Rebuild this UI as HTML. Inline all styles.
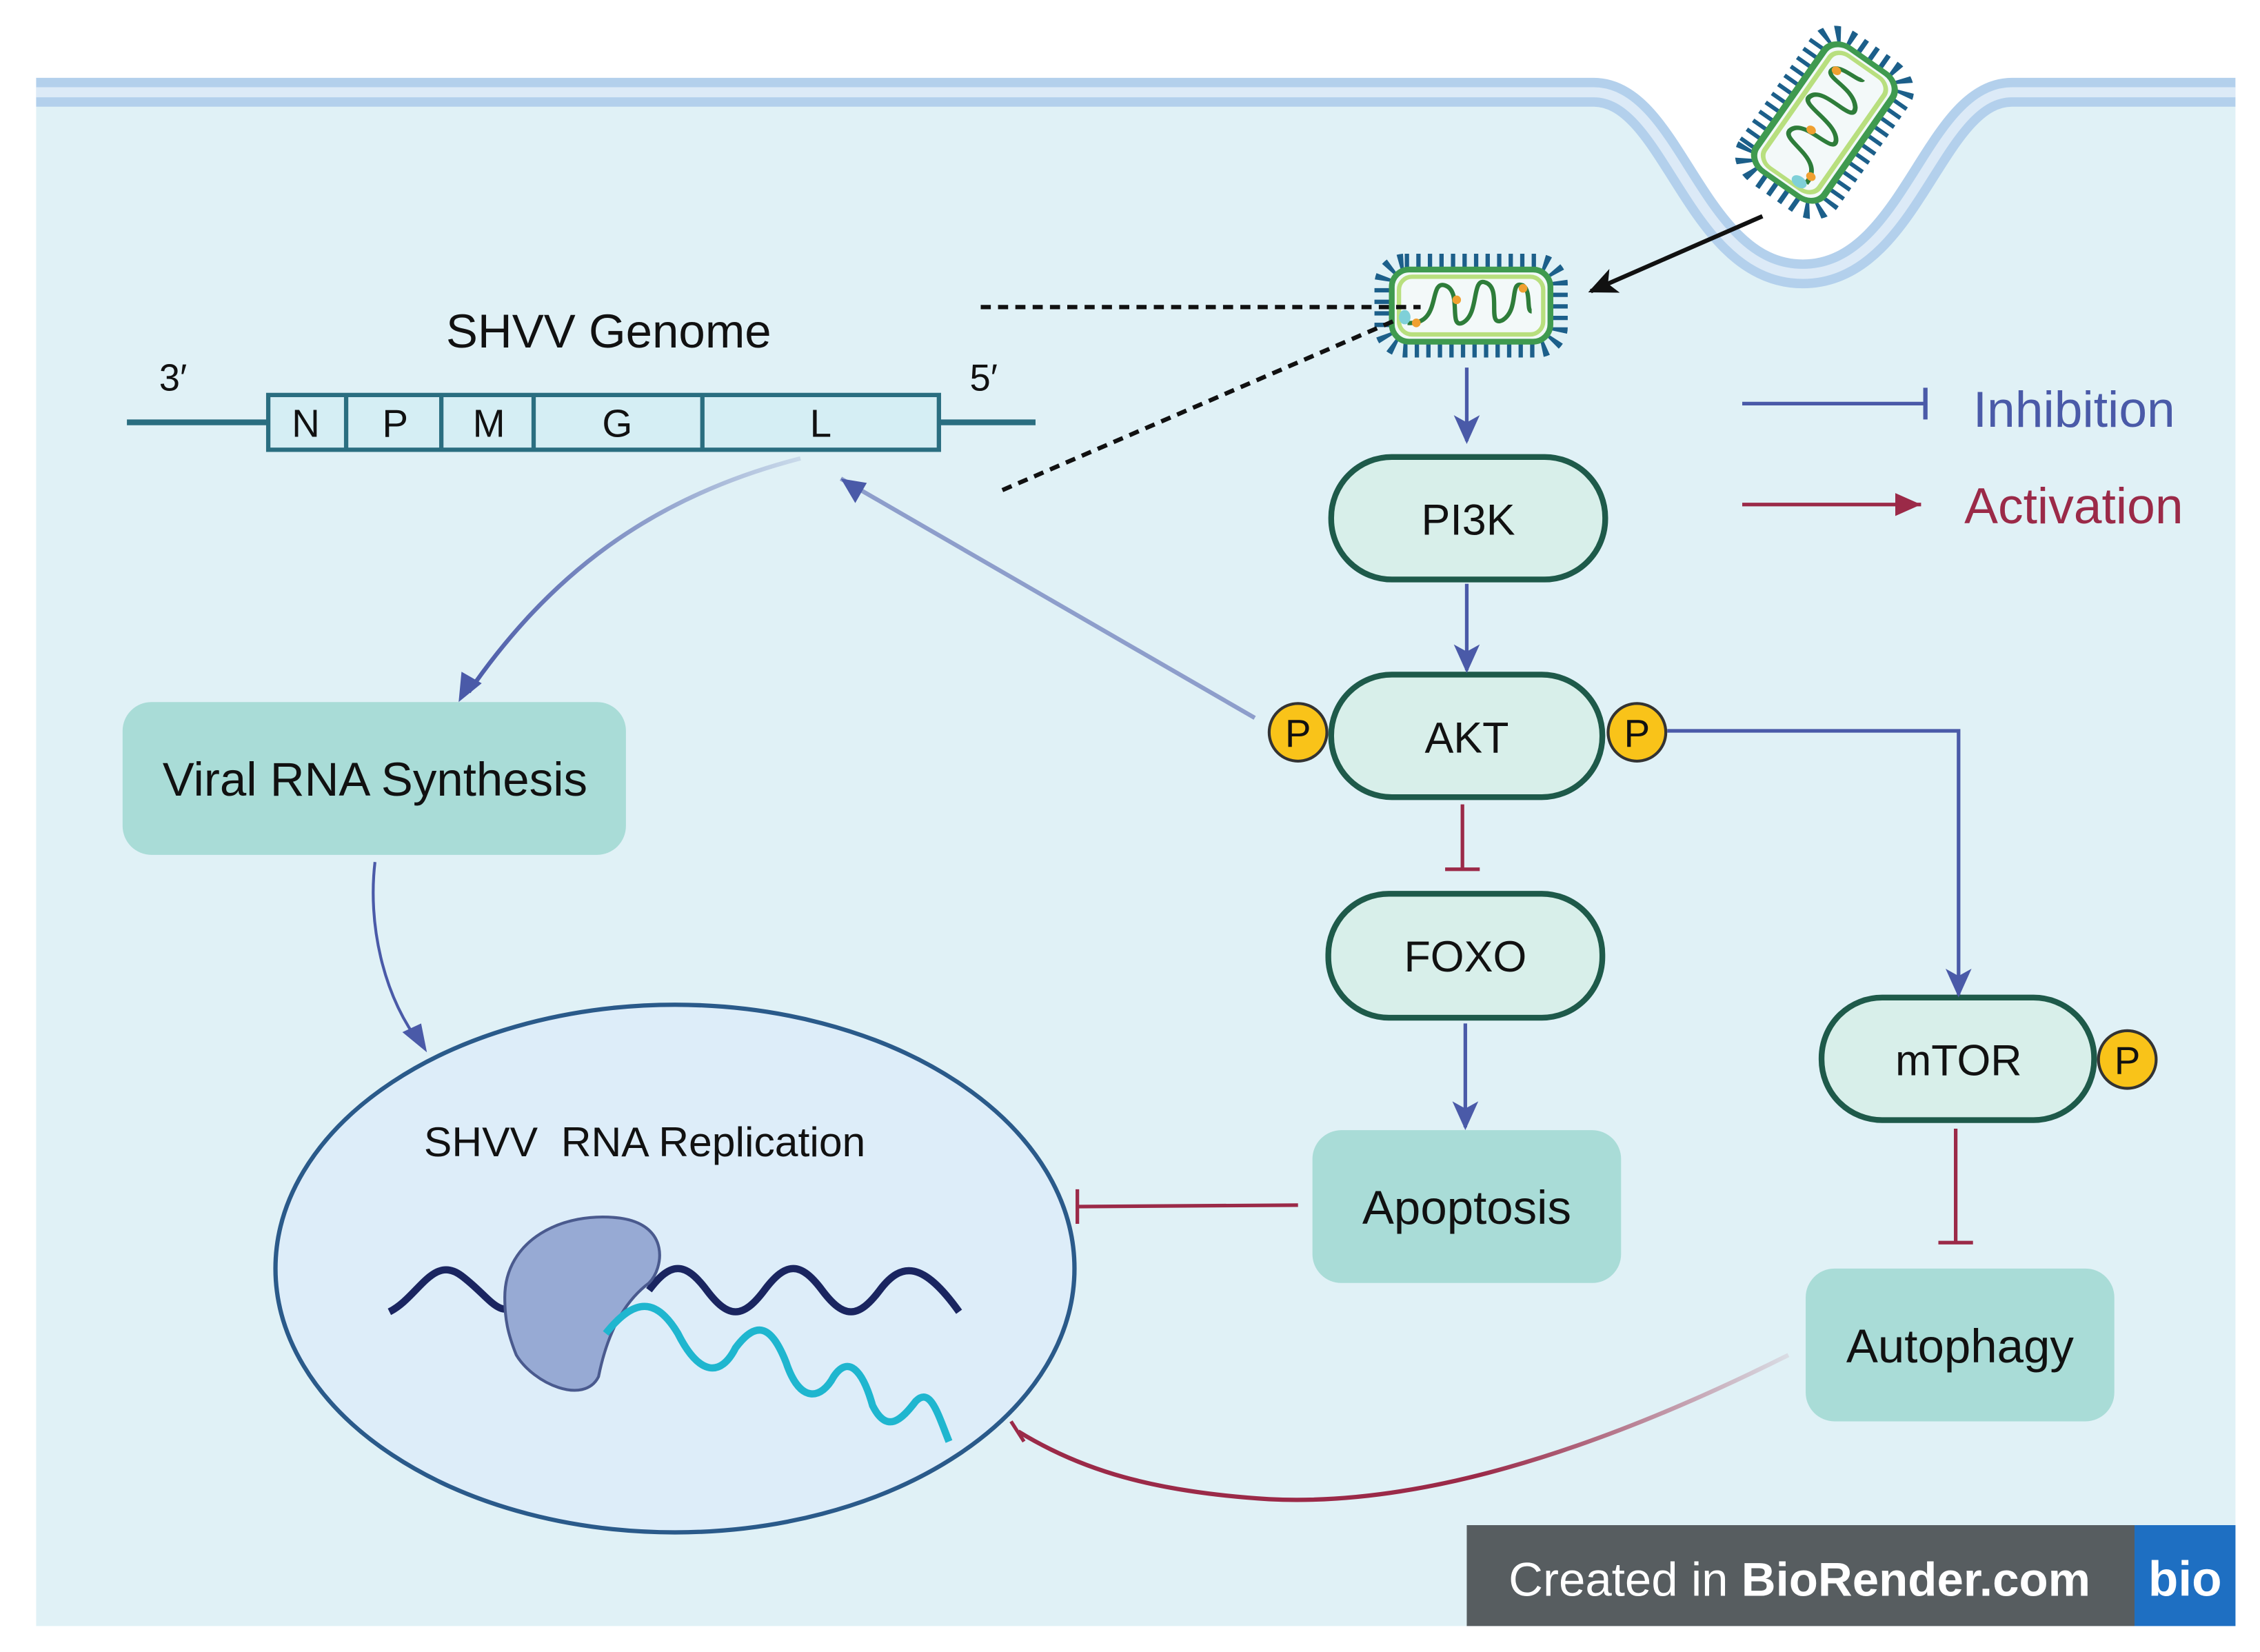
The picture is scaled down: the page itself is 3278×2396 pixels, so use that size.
<!DOCTYPE html>
<html><head><meta charset="utf-8"><style>
html,body{margin:0;padding:0;background:#fff}
svg{display:block}
text{font-family:"Liberation Sans",sans-serif}
</style></head><body>
<svg width="3278" height="2396" viewBox="0 0 1567 1146" preserveAspectRatio="none" xmlns="http://www.w3.org/2000/svg">
<defs>
<marker id="ak" markerWidth="22" markerHeight="22" refX="18" refY="11" orient="auto" markerUnits="userSpaceOnUse"><path d="M0,2 L20,11 L0,20 L5,11z" fill="#111"/></marker>
<marker id="abb" markerWidth="22" markerHeight="22" refX="18" refY="11" orient="auto" markerUnits="userSpaceOnUse"><path d="M0,2 L20,11 L0,20 L5,11z" fill="#4a5aa8"/></marker>
<marker id="ar" markerWidth="22" markerHeight="22" refX="18" refY="11" orient="auto" markerUnits="userSpaceOnUse"><path d="M0,3 L18,11 L0,19z" fill="#9b2a48"/></marker>
<linearGradient id="g1" x1="0" y1="0" x2="1" y2="0"><stop offset="0" stop-color="#4a5aa8"/><stop offset="1" stop-color="#4a5aa8" stop-opacity="0.15"/></linearGradient>
<linearGradient id="g2" x1="0" y1="0" x2="1" y2="0"><stop offset="0" stop-color="#9b2a48"/><stop offset="0.6" stop-color="#9b2a48"/><stop offset="1" stop-color="#9b2a48" stop-opacity="0.1"/></linearGradient>
<linearGradient id="g3" x1="0" y1="1" x2="1" y2="0"><stop offset="0" stop-color="#4a5aa8"/><stop offset="1" stop-color="#4a5aa8" stop-opacity="0.1"/></linearGradient>
<g id="vir">
<rect x="-60" y="-29" width="120" height="58" rx="14" fill="none" stroke="#1c5f8a" stroke-width="14" stroke-dasharray="3 5"/>
<rect x="-55" y="-25" width="110" height="50" rx="12" fill="#f3f9f9" stroke="#3f9a4f" stroke-width="4"/>
<rect x="-50" y="-20" width="100" height="40" rx="9" fill="none" stroke="#b8df7e" stroke-width="3"/>
<path d="M-44,12 C-20,14 -30,-18 -18,-14 C-6,-10 -16,16 -6,12 C6,6 0,-20 10,-16 C22,-12 10,16 22,10 C34,2 26,-18 36,-14 C42,-10 38,4 42,4" fill="none" stroke="#2e7d3a" stroke-width="3"/>
<ellipse cx="-46" cy="8" rx="4" ry="5" fill="#7fd0d8"/>
<circle cx="-38" cy="12" r="3" fill="#f0a030"/><circle cx="-10" cy="-4" r="3" fill="#f0a030"/><circle cx="36" cy="-12" r="3" fill="#f0a030"/>
</g>
</defs>
<rect x="0" y="0" width="1567" height="1146" fill="#fff"/>
<rect x="25" y="60" width="1525" height="1068" fill="#e0f1f6"/>
<path d="M0,0 H1567 V55 H1390 C1340,55 1320,190 1250,192 C1180,192 1160,55 1110,55 H0z" fill="#fff"/>
<path d="M25,64 H1105 C1160,64 1175,190 1250,190 C1325,190 1340,64 1395,64 H1550" fill="none" stroke="#b3d0ec" stroke-width="20"/>
<path d="M25,64 H1105 C1160,64 1175,190 1250,190 C1325,190 1340,64 1395,64 H1550" fill="none" stroke="#dceaf7" stroke-width="7"/>
<rect x="0" y="0" width="25" height="1146" fill="#fff"/><rect x="1550" y="0" width="17" height="1146" fill="#fff"/>
<use href="#vir" transform="translate(1265,85) rotate(-55) scale(0.95,1.15)"/>
<use href="#vir" transform="translate(1020,212)"/>
<line x1="1222" y1="150" x2="1103" y2="202" stroke="#111" stroke-width="3" marker-end="url(#ak)"/>
<line x1="680" y1="213" x2="985" y2="213" stroke="#111" stroke-width="3" stroke-dasharray="7 5"/>
<line x1="695" y1="340" x2="968" y2="222" stroke="#111" stroke-width="3" stroke-dasharray="7 5"/>
<text x="422" y="241" font-size="33" text-anchor="middle" fill="#111">SHVV Genome</text>
<text x="120" y="271" font-size="26" text-anchor="middle" fill="#111">3′</text>
<text x="682" y="271" font-size="26" text-anchor="middle" fill="#111">5′</text>
<line x1="88" y1="293" x2="718" y2="293" stroke="#2a6e80" stroke-width="4"/>
<rect x="186" y="274" width="465" height="38" fill="#d5eef4" stroke="#2a6e80" stroke-width="3"/>
<g stroke="#2a6e80" stroke-width="3"><line x1="240" y1="274" x2="240" y2="312"/><line x1="306" y1="274" x2="306" y2="312"/><line x1="370" y1="274" x2="370" y2="312"/><line x1="487" y1="274" x2="487" y2="312"/></g>
<g font-size="27" fill="#111" text-anchor="middle"><text x="212" y="303">N</text><text x="274" y="303">P</text><text x="339" y="303">M</text><text x="428" y="303">G</text><text x="569" y="303">L</text></g>
<g fill="#d8efea" stroke="#1e5a4a" stroke-width="4">
<rect x="923" y="317" width="190" height="85" rx="42"/>
<rect x="923" y="468" width="188" height="85" rx="42"/>
<rect x="921" y="620" width="190" height="86" rx="42"/>
<rect x="1263" y="692" width="189" height="85" rx="42"/>
</g>
<g font-size="30" fill="#111" text-anchor="middle"><text x="1018" y="371">PI3K</text><text x="1017" y="522">AKT</text><text x="1016" y="674">FOXO</text><text x="1358" y="746">mTOR</text></g>
<g fill="#f9c319" stroke="#333" stroke-width="2"><circle cx="900" cy="508" r="20"/><circle cx="1135" cy="508" r="20"/><circle cx="1475" cy="735" r="20"/></g>
<g font-size="27" fill="#111" text-anchor="middle"><text x="900" y="518">P</text><text x="1135" y="518">P</text><text x="1475" y="745">P</text></g>
<g fill="#a9dcd7"><rect x="85" y="487" width="349" height="106" rx="20"/><rect x="910" y="784" width="214" height="106" rx="20"/><rect x="1252" y="880" width="214" height="106" rx="20"/></g>
<g font-size="33" fill="#111" text-anchor="middle"><text x="260" y="552">Viral RNA Synthesis</text><text x="1017" y="849">Apoptosis</text><text x="1359" y="945">Autophagy</text></g>
<ellipse cx="468" cy="880" rx="277" ry="183" fill="#ddedf9" stroke="#2a5a8a" stroke-width="3"/>
<text x="447" y="802" font-size="29" text-anchor="middle" fill="#111" xml:space="preserve">SHVV  RNA Replication</text>
<path d="M270,910 C290,900 300,870 320,885 C340,900 345,915 360,905 M450,895 C465,875 475,875 490,895 C505,915 515,915 530,895 C545,875 555,875 570,895 C585,915 595,915 610,895 C625,875 640,875 665,910" fill="none" stroke="#1a2560" stroke-width="5"/>
<path d="M350,900 C350,860 390,840 430,845 C465,850 460,880 450,890 C430,905 420,930 415,955 C405,975 370,960 358,940 C352,925 350,915 350,900z" fill="#97aad4" stroke="#4a5a8e" stroke-width="2"/>
<path d="M420,925 C440,900 455,900 470,925 C485,955 500,955 510,935 C525,915 535,920 545,945 C555,975 570,970 578,955 C588,940 598,950 605,975 C615,995 625,985 635,972 C645,962 650,980 658,1000" fill="none" stroke="#1fb6cf" stroke-width="5"/>
<g stroke="#4a5aa8" stroke-width="2.5" fill="none">
<line x1="1017" y1="255" x2="1017" y2="306" marker-end="url(#abb)"/>
<line x1="1017" y1="405" x2="1017" y2="465" marker-end="url(#abb)"/>
<line x1="1016" y1="710" x2="1016" y2="782" marker-end="url(#abb)"/>
<polyline points="1156,507 1358,507 1358,690" marker-end="url(#abb)"/>
</g>
<line x1="870" y1="498" x2="583" y2="332" stroke="url(#g3)" stroke-width="3"/>
<path d="M583,332 L601,335 L593,349z" fill="#4a5aa8"/>
<path d="M555,318 C450,345 380,400 325,480" fill="none" stroke="url(#g1)" stroke-width="3"/>
<path d="M318,487 L320,466 L334,474z" fill="#4a5aa8"/>
<path d="M260,598 C255,640 265,690 292,725" fill="none" stroke="#4a5aa8" stroke-width="2"/>
<path d="M296,730 L279,716 L292,710z" fill="#4a5aa8"/>
<g stroke="#9b2a48" stroke-width="2.5">
<line x1="1014" y1="558" x2="1014" y2="603"/><line x1="1002" y1="603" x2="1026" y2="603"/>
<line x1="1356" y1="783" x2="1356" y2="862"/><line x1="1344" y1="862" x2="1368" y2="862"/>
<line x1="900" y1="836" x2="747" y2="837"/><line x1="747" y1="825" x2="747" y2="849"/>
<line x1="701" y1="986" x2="710" y2="1000"/>
</g>
<path d="M1240,940 C1100,1010 980,1045 880,1040 C800,1035 750,1020 706,993" fill="none" stroke="url(#g2)" stroke-width="3"/>
<line x1="1208" y1="280" x2="1335" y2="280" stroke="#4a5aa8" stroke-width="2.5"/><line x1="1335" y1="269" x2="1335" y2="291" stroke="#4a5aa8" stroke-width="3"/>
<text x="1368" y="296" font-size="35" fill="#4a5aa8">Inhibition</text>
<line x1="1208" y1="350" x2="1332" y2="350" stroke="#9b2a48" stroke-width="2.5" marker-end="url(#ar)"/>
<text x="1362" y="363" font-size="35" fill="#9b2a48">Activation</text>
<rect x="1017" y="1058" width="463" height="70" fill="#575d60"/>
<rect x="1480" y="1058" width="70" height="70" fill="#1e6fc2"/>
<text x="1046" y="1107" font-size="33" fill="#fff">Created in <tspan font-weight="bold">BioRender.com</tspan></text>
<text x="1515" y="1107" font-size="34" font-weight="bold" fill="#fff" text-anchor="middle">bio</text>
</svg>
</body></html>
